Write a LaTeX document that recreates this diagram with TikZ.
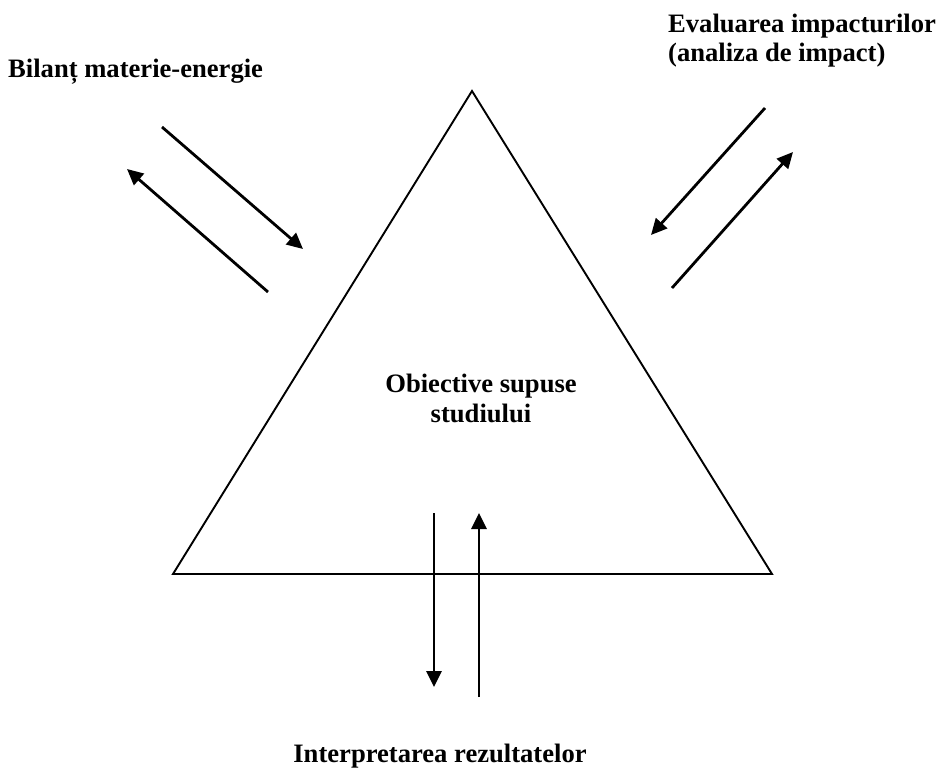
\documentclass[tikz,border=0pt]{standalone}
\usepackage{fontspec}
\setmainfont{Liberation Serif}
\usetikzlibrary{arrows.meta}
\tikzset{
  lbl/.style={font=\bfseries\fontsize{26.6}{30}\selectfont, inner sep=0pt},
  flow/.style={line width=2.8pt, -{Triangle[length=16pt,width=15pt]}},
  tri/.style={line width=1.9pt, line join=miter}
}
\begin{document}
\begin{tikzpicture}[x=1pt,y=-1pt]
\useasboundingbox (0,0) rectangle (938,769);
% triangle
\coordinate (apex) at (472,91);
\coordinate (bl) at (173,574);
\coordinate (br) at (772,574);
\draw[tri] (apex) -- (bl) -- (br) -- cycle;
% labels
\node[lbl, anchor=base west] (bilant) at (8,77) {Bilanț materie-energie};
\node[lbl, anchor=base west] (eval1) at (668,32) {Evaluarea impacturilor};
\node[lbl, anchor=base west] (eval2) at (668,61) {(analiza de impact)};
\node[lbl, anchor=base] (obj1) at (481,392) {Obiective supuse};
\node[lbl, anchor=base] (obj2) at (481,422) {studiului};
\node[lbl, anchor=base] (interp) at (440,762) {Interpretarea rezultatelor};
% arrow end points
\coordinate (a1s) at (162,127); \coordinate (a1e) at (303,249);
\coordinate (a2s) at (268,292); \coordinate (a2e) at (127,169);
\coordinate (a3s) at (765,108); \coordinate (a3e) at (651,235);
\coordinate (a4s) at (672,288); \coordinate (a4e) at (793,152);
\coordinate (a5s) at (434,513); \coordinate (a5e) at (434,687);
\coordinate (a6s) at (479,697); \coordinate (a6e) at (479,513);
\draw[flow] (a1s) -- (a1e);
\draw[flow] (a2s) -- (a2e);
\draw[flow] (a3s) -- (a3e);
\draw[flow] (a4s) -- (a4e);
\draw[flow] (a5s) -- (a5e);
\draw[flow] (a6s) -- (a6e);
\end{tikzpicture}
\end{document}
